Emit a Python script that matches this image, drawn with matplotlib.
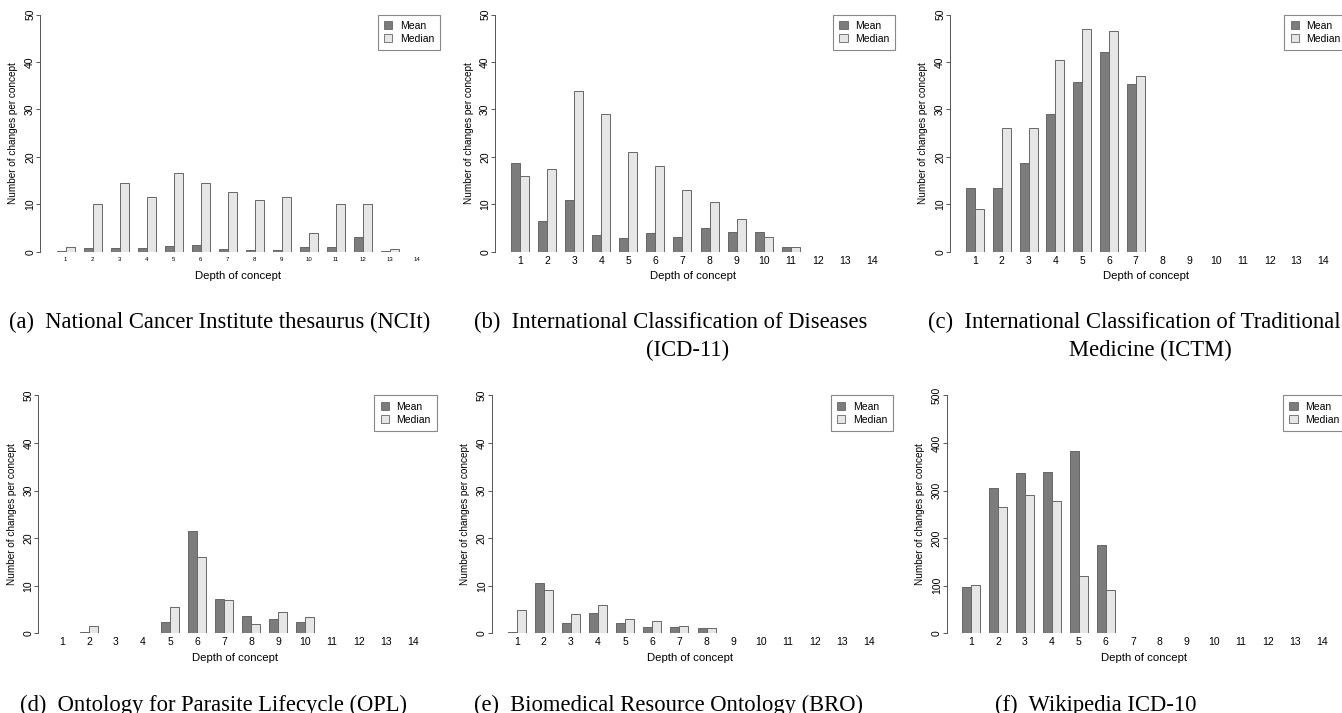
import numpy as np
import matplotlib
matplotlib.use("Agg")
import matplotlib.pyplot as plt
from matplotlib.patches import Patch

nan = np.nan
depths = list(range(1, 15))

# (a) NCIt
ncit_mean = [0.1, 0.8, 0.7, 0.8, 1.2, 1.4, 0.6, 0.4, 0.4, 1.0, 0.9, 3.0, 0.1, 0.0]
ncit_median = [1.0, 10.0, 14.5, 11.5, 16.5, 14.5, 12.5, 11.0, 11.5, 4.0, 10.0, 10.0, 0.5, 0.0]
# (b) ICD-11
icd11_mean = [18.7, 6.5, 10.9, 3.5, 2.8, 4.0, 3.1, 4.9, 4.1, 4.2, 1.0, nan, nan, nan]
icd11_median = [16.0, 17.5, 34.0, 29.0, 21.0, 18.0, 13.0, 10.5, 7.0, 3.0, 1.0, nan, nan, nan]
# (c) ICTM
ictm_mean = [13.4, 13.4, 18.8, 29.0, 35.7, 42.2, 35.3, nan, nan, nan, nan, nan, nan, nan]
ictm_median = [9.0, 26.0, 26.0, 40.5, 47.0, 46.5, 37.0, nan, nan, nan, nan, nan, nan, nan]
# (d) OPL
opl_mean = [0.0, 0.2, 0.0, 0.0, 2.3, 21.5, 7.3, 3.7, 3.0, 2.4, 0.0, nan, nan, nan]
opl_median = [0.0, 1.5, 0.0, 0.0, 5.5, 16.0, 7.0, 2.0, 4.5, 3.5, 0.0, nan, nan, nan]
# (e) BRO
bro_mean = [0.3, 10.6, 2.1, 4.2, 2.2, 1.3, 1.3, 1.1, nan, nan, nan, nan, nan, nan]
bro_median = [5.0, 9.0, 4.0, 6.0, 3.0, 2.5, 1.5, 1.1, nan, nan, nan, nan, nan, nan]
# (f) Wikipedia ICD-10
wiki_mean = [97, 306, 337, 339, 383, 186, nan, nan, nan, nan, nan, nan, nan, nan]
wiki_median = [102, 265, 291, 278, 121, 90, nan, nan, nan, nan, nan, nan, nan, nan]

captions = [
    ["(a)  National Cancer Institute thesaurus (NCIt)"],
    ["(b)  International Classification of Diseases", "(ICD-11)"],
    ["(c)  International Classification of Traditional", "Medicine (ICTM)"],
    ["(d)  Ontology for Parasite Lifecycle (OPL)"],
    ["(e)  Biomedical Resource Ontology (BRO)"],
    ["(f)  Wikipedia ICD-10"],
]

W, H = 1342, 713
MEAN_C = "#7c7c7c"
MED_C = "#e6e6e6"
EDGE = "#666666"

fig = plt.figure(figsize=(W / 100, H / 100), dpi=100)
plt.rcParams["font.family"] = ["Liberation Sans", "DejaVu Sans"]

# panel layout in pixels: y-axis x, centre of group 1, px per unit, top px, zero px
layout = [
    (40, 65.5, 9.0, 14.7, 251.7),
    (495, 520.3, 9.01, 14.7, 251.7),
    (950, 975, 8.93, 14.7, 251.7),
    (38.3, 62, 9.0, 395.3, 633.3),
    (491.7, 516.7, 9.04, 395.3, 633.3),
    (946.7, 971, 8.99, 395.3, 633.3),
]
panels = [
    (ncit_mean, ncit_median, 50, 4.3),
    (icd11_mean, icd11_median, 50, 7.5),
    (ictm_mean, ictm_median, 50, 7.5),
    (opl_mean, opl_median, 50, 7.5),
    (bro_mean, bro_median, 50, 7.5),
    (wiki_mean, wiki_median, 500, 7.5),
]
xright = 43.64


def draw_panel(ax_pos, mean, median, ymax, tick_fs):
    axis_x, c1, u, ytop, y0 = ax_pos
    xleft = 2 - (c1 - axis_x) / u
    wpx = (xright - xleft) * u
    hpx = y0 - ytop
    ax = fig.add_axes([axis_x / W, (H - y0) / H, wpx / W, hpx / H])
    mean = np.array(mean, dtype=float)
    median = np.array(median, dtype=float)
    idx = np.arange(len(depths))
    ok = ~np.isnan(mean)
    ax.bar(3 * idx[ok] + 1.5, mean[ok], width=1, color=MEAN_C, edgecolor=EDGE, linewidth=0.7)
    ok = ~np.isnan(median)
    ax.bar(3 * idx[ok] + 2.5, median[ok], width=1, color=MED_C, edgecolor=EDGE, linewidth=0.7)
    ax.set_xlim(xleft, xright)
    ax.set_ylim(0, ymax)
    ax.set_xticks(3 * idx + 2)
    ax.set_xticklabels([str(d) for d in depths], fontsize=tick_fs)
    ax.tick_params(axis="x", length=0, pad=4 if tick_fs < 6 else 3)
    yt = np.linspace(0, ymax, 6)
    ax.set_yticks(yt)
    ax.set_yticklabels([str(int(v)) for v in yt], fontsize=7.5, rotation=90, va="center")
    ax.tick_params(axis="y", length=3, width=0.7, color="#555555", pad=0.5)
    for s in ["top", "right", "bottom"]:
        ax.spines[s].set_visible(False)
    ax.spines["left"].set_color("#555555")
    ax.spines["left"].set_linewidth(0.7)
    ax.spines["left"].set_bounds(0, ymax)
    ax.patch.set_visible(False)
    ax.set_xlabel("Depth of concept", fontsize=8.2)
    ax.xaxis.set_label_coords(0.5 - 2 / wpx, -24.5 / hpx)
    ax.xaxis.label.set_va("center")
    ax.set_ylabel("Number of changes per concept", fontsize=7.2)
    ax.yaxis.set_label_coords(-26.5 / wpx, 0.5)
    ax.yaxis.label.set_va("center")
    handles = [Patch(facecolor=MEAN_C, edgecolor=EDGE, linewidth=0.6),
               Patch(facecolor=MED_C, edgecolor=EDGE, linewidth=0.6)]
    leg = ax.legend(handles, ["Mean", "Median"], loc="upper right", bbox_to_anchor=(1, 1),
                    borderaxespad=0, fontsize=7.5, handlelength=0.8, handleheight=0.8,
                    handletextpad=0.7, borderpad=0.6, labelspacing=0.3,
                    fancybox=False, framealpha=1, edgecolor="#888888")
    leg.get_frame().set_linewidth(0.8)
    return ax


for pos, (m, md, ymax, fs) in zip(layout, panels):
    draw_panel(pos, m, md, ymax, fs)

# sub-captions in a serif face
cap_pos = [
    [(220, 322)],
    [(671, 322), (688, 350)],
    [(1134, 322), (1150, 350)],
    [(214, 705)],
    [(668, 705)],
    [(1096, 705)],
]
for lines, pos in zip(captions, cap_pos):
    for txt, (px, py) in zip(lines, pos):
        fig.text(px / W, 1 - py / H, txt, ha="center", va="center",
                 fontsize=16.3, family="Liberation Serif")

fig.savefig("out.png", dpi=100)
